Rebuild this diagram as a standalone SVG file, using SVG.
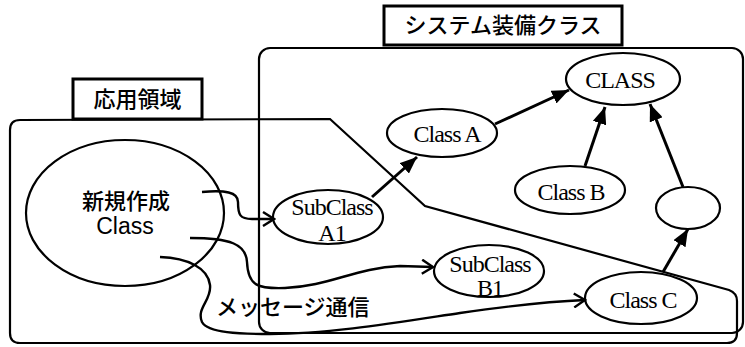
<svg xmlns="http://www.w3.org/2000/svg" width="745" height="347" viewBox="0 0 745 347">
<defs>
<style>
.box{fill:none;stroke:#000;stroke-width:2.2}
.lbl{fill:#fff;stroke:#000;stroke-width:3}
.node{fill:#fff;stroke:#000;stroke-width:2.2}
.jp{font-family:"Noto Sans CJK JP","Noto Sans",sans-serif;font-weight:500;font-size:22px;fill:#000}
.ser{font-family:"Liberation Serif",serif;font-size:24px;fill:#000;text-anchor:middle;letter-spacing:-1px}
.san{font-family:"Liberation Sans",sans-serif;font-size:23px;fill:#000;text-anchor:middle}
.arr{fill:none;stroke:#000;stroke-width:3;marker-end:url(#fa)}
.crv{fill:none;stroke:#000;stroke-width:2.4;marker-end:url(#oa)}
</style>
<marker id="fa" markerUnits="userSpaceOnUse" markerWidth="18" markerHeight="14" refX="17" refY="7" orient="auto">
<path d="M0,0 L17,7 L0,14 z" fill="#000"/>
</marker>
<marker id="oa" markerUnits="userSpaceOnUse" markerWidth="14" markerHeight="16" refX="12" refY="8" orient="auto">
<path d="M1,1 L12,8 L1,15" fill="none" stroke="#000" stroke-width="2.4"/>
</marker>
</defs>
<rect width="745" height="347" fill="#fff"/>
<g id="system-area">
<rect class="box" x="259" y="48" width="484" height="285" rx="11"/>
</g>
<g id="app-area">
<path class="box" d="M20,120 L330,119 L425,206 L729,290 Q737,293 737,301 L737,333 Q737,343 727,343 L20,343 Q10,343 10,333 L10,130 Q10,120 20,120 Z"/>
</g>
<g id="system-label">
<rect class="lbl" x="384" y="6" width="238" height="39"/>
<text class="jp" x="503" y="33" text-anchor="middle">システム装備クラス</text>
</g>
<g id="app-label">
<rect class="lbl" x="73" y="79" width="129" height="40"/>
<text class="jp" x="137.5" y="107" text-anchor="middle">応用領域</text>
</g>
<g id="new-class">
<ellipse class="node" cx="125" cy="213" rx="99" ry="73" style="fill:none"/>
<text class="jp" x="126" y="209" text-anchor="middle">新規作成</text>
<text class="san" x="125" y="234">Class</text>
</g>
<g id="CLASS">
<ellipse class="node" cx="623" cy="79" rx="57" ry="26"/>
<text class="ser" x="620" y="88">CLASS</text>
</g>
<g id="class-a">
<ellipse class="node" cx="442" cy="133" rx="55" ry="24"/>
<text class="ser" x="447" y="142">Class A</text>
</g>
<g id="class-b">
<ellipse class="node" cx="570" cy="190" rx="55" ry="24"/>
<text class="ser" x="571" y="200">Class B</text>
</g>
<g id="empty">
<ellipse class="node" cx="688" cy="208" rx="32" ry="21"/>
</g>
<g id="subclass-a1">
<ellipse class="node" cx="328" cy="217" rx="55" ry="27"/>
<text class="ser" x="332" y="215">SubClass</text>
<text class="ser" x="332" y="241">A1</text>
</g>
<g id="subclass-b1">
<ellipse class="node" cx="489" cy="271" rx="55" ry="26"/>
<text class="ser" x="490" y="272">SubClass</text>
<text class="ser" x="490" y="296">B1</text>
</g>
<g id="class-c">
<ellipse class="node" cx="641" cy="298" rx="56" ry="26"/>
<text class="ser" x="643" y="308">Class C</text>
</g>
<g id="connectors">
<path class="arr" d="M372,197 L417,157"/>
<path class="arr" d="M495,124 L569,90"/>
<path class="arr" d="M585,166 L605,107"/>
<path class="arr" d="M683,187 L650,104"/>
<path class="arr" d="M663,272 L688,229"/>
<path class="crv" d="M202,192 C225,190 238,192 238,202 C238,215 240,219 252,219 L274,219"/>
<path class="crv" d="M190,238 C230,238 246,244 247,262 C248,286 258,289 285,288 C330,286 355,268 400,266 L433,267"/>
<path class="crv" d="M160,257 C188,258 208,268 210,285 C212,300 196,308 202,322 C208,333 240,334 270,334 C330,334 400,322 460,313 C515,305 560,301 585,300"/>
</g>
<text class="jp" x="216" y="315">メッセージ通信</text>
</svg>
